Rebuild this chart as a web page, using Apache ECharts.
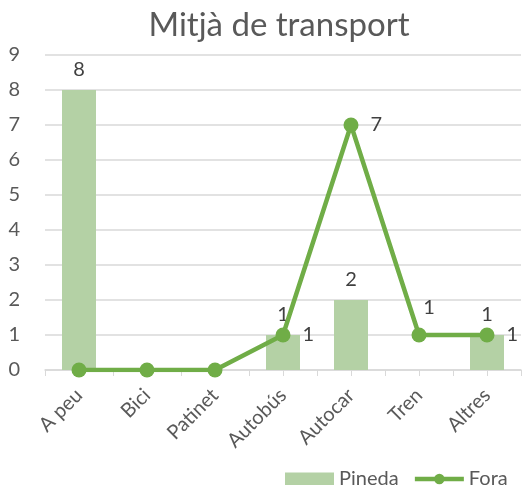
<!DOCTYPE html>
<html>
<head>
<meta charset="utf-8">
<script src="https://cdn.jsdelivr.net/npm/echarts@6/dist/echarts.min.js"></script>
<style>
  html, body { margin: 0; padding: 0; background: #fff; }
  #main { width: 528px; height: 485px; }
</style>
</head>
<body>
<div id="main"></div>
<script>
// dades
const categories = ['A peu', 'Bici', 'Patinet', 'Autobús', 'Autocar', 'Tren', 'Altres'];
const pineda = [8, 0, 0, 1, 2, 0, 1];
const fora = [0, 0, 0, 1, 7, 1, 1];
const yTicks = [0, 1, 2, 3, 4, 5, 6, 7, 8, 9];

const textColor = '#595959';
const font = 'Lato';

const chart = echarts.init(document.getElementById('main'));

// etiquetes de la línia: a la dreta, llevat de Tren (a sobre)
const foraData = fora.map((v, i) => {
  const item = { value: v };
  if (v === 0) {
    item.label = { show: false };
  } else if (categories[i] === 'Tren') {
    item.label = { show: true, position: 'top', offset: [10, 2] };
  }
  return item;
});

const option = {
  animation: false,
  textStyle: { fontFamily: font },
  title: {
    text: 'Mitjà de transport',
    left: 274,
    textAlign: 'center',
    top: 4,
    textStyle: { fontSize: 33, fontWeight: 'normal', color: textColor, fontFamily: font }
  },
  legend: {
    top: 464,
    left: 280,
    itemGap: 14,
    textStyle: { fontSize: 20, color: textColor, fontFamily: font },
    data: [
      { name: 'Pineda', icon: 'rect' },
      { name: 'Fora', itemStyle: { color: '#70ad47' }, lineStyle: { width: 4.5, color: '#70ad47' } }
    ],
    itemWidth: 49,
    itemHeight: 13
  },
  grid: { left: 45, right: 7, top: 55, bottom: 115 },
  xAxis: [
    {
      type: 'category',
      data: categories,
      axisLine: { lineStyle: { color: '#d9d9d9', width: 1.5 } },
      axisTick: { show: true, length: 6, lineStyle: { color: '#d9d9d9' } },
      axisLabel: { rotate: 45, fontSize: 20, color: textColor, fontFamily: font, margin: 22 }
    },
    {
      type: 'category',
      data: categories,
      position: 'bottom',
      axisLine: { show: false },
      axisTick: { show: true, alignWithLabel: true, length: 6, lineStyle: { color: '#d9d9d9' } },
      axisLabel: { show: false }
    }
  ],
  yAxis: {
    type: 'value',
    min: yTicks[0],
    max: yTicks[yTicks.length - 1],
    interval: 1,
    axisLine: { show: false },
    axisTick: { show: false },
    axisLabel: { fontSize: 20, color: textColor, fontFamily: font, margin: 25 },
    splitLine: { lineStyle: { color: '#d9d9d9', width: 1.5 } }
  },
  series: [
    {
      name: 'Pineda',
      type: 'bar',
      data: pineda,
      barWidth: '50%',
      itemStyle: { color: '#b4d1a5' },
      label: {
        show: true,
        position: 'top',
        distance: 10,
        fontSize: 20,
        color: '#404040',
        fontFamily: font,
        formatter: p => (p.value === 0 ? '' : p.value)
      },
      z: 2
    },
    {
      name: 'Fora',
      type: 'line',
      data: foraData,
      symbol: 'circle',
      symbolSize: 15,
      lineStyle: { color: '#70ad47', width: 4.5 },
      itemStyle: { color: '#70ad47' },
      label: {
        show: true,
        position: 'right',
        distance: 12,
        fontSize: 20,
        color: '#404040',
        fontFamily: font
      },
      z: 3
    }
  ]
};

chart.setOption(option);
</script>
</body>
</html>
